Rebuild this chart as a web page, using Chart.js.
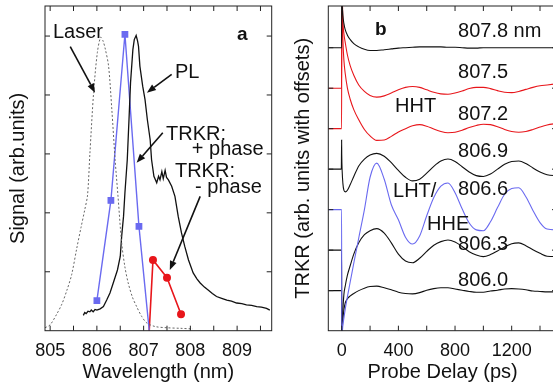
<!DOCTYPE html>
<html>
<head>
<meta charset="utf-8">
<script src="https://cdn.jsdelivr.net/npm/chart.js@4.4.0/dist/chart.umd.min.js"></script>
<style>
  html, body { margin: 0; padding: 0; background: #fff; overflow: hidden; }
  #wrap { position: relative; width: 553px; height: 390px; overflow: hidden; }
  canvas { position: absolute; top: 0; }
  #panel-a { left: 0; }
  #panel-b { left: 285px; }
</style>
</head>
<body>
<div id="wrap">
  <canvas id="panel-a" width="285" height="390"></canvas>
  <canvas id="panel-b" width="272" height="390"></canvas>
</div>
<script>
/**
 * Panel a: spectra vs wavelength (nm), signal in arb. units
 */
const laserNm = [804.89, 805.0, 805.14, 805.25, 805.36, 805.46, 805.57, 805.66, 805.74, 805.80, 805.85, 805.93, 806.01, 806.08,
                 806.13, 806.18, 806.25, 806.32, 806.39, 806.45, 806.53, 806.60, 806.67, 806.76, 806.85, 806.96, 807.07,
                 807.25, 807.5, 807.8, 808.05];
const laserSignal = [0.05, 0.1, 0.28, 0.45, 0.69, 0.95, 1.4, 1.75, 2.05, 2.3, 3.0, 4.04, 4.72, 4.98,
                     4.92, 4.78, 4.49, 3.75, 2.9, 2.3, 1.49, 1.08, 0.81, 0.57, 0.41, 0.24, 0.13,
                     0.07, 0.05, 0.04, 0.03];

const plNm = [805.71, 805.74, 805.77, 805.81, 805.85, 805.88, 805.92, 805.96, 806.00, 806.07, 806.14, 806.21, 806.28,
              806.35, 806.44, 806.50, 806.53, 806.57, 806.60, 806.65, 806.69, 806.72, 806.77, 806.80, 806.84, 806.87,
              806.89, 806.92, 806.98, 807.03, 807.08, 807.14, 807.17, 807.22, 807.28, 807.32, 807.35, 807.39, 807.42,
              807.46, 807.49, 807.53, 807.60, 807.67, 807.74, 807.81, 807.88, 807.96, 808.06, 808.14, 808.21, 808.30,
              808.38, 808.47, 808.56, 808.67, 808.78, 808.88, 808.99, 809.10, 809.20, 809.31, 809.42, 809.52, 809.63, 809.70];
const plSignal = [0.26, 0.31, 0.29, 0.33, 0.32, 0.35, 0.32, 0.36, 0.35, 0.37, 0.41, 0.52, 0.64,
                  0.81, 1.03, 1.26, 1.60, 1.94, 2.34, 2.90, 3.64, 4.21, 4.77, 4.94, 5.01, 4.92,
                  4.83, 4.49, 4.15, 3.92, 3.58, 3.24, 2.90, 2.62, 2.51, 2.62, 2.56, 2.70, 2.58,
                  2.72, 2.60, 2.56, 2.45, 2.28, 1.94, 1.66, 1.43, 1.20, 0.98, 0.88, 0.81, 0.74,
                  0.69, 0.63, 0.58, 0.55, 0.52, 0.50, 0.47, 0.46, 0.44, 0.43, 0.41, 0.40, 0.38, 0.35];

// TRKR amplitude, + phase (blue) and - phase (red); both meet the axis at the sign change
const trkrPlusNm = [806.0, 806.3, 806.6, 806.9, 807.12];
const trkrPlusSignal = [0.51, 2.21, 5.03, 1.77, 0];
const trkrMinusNm = [807.12, 807.2, 807.5, 807.8];
const trkrMinusSignal = [0, 1.2, 0.9, 0.28];

const wavelengthTicks = [805, 806, 807, 808, 809];
const wavelengthMinorTicks = [805, 805.5, 806, 806.5, 807, 807.5, 808, 808.5, 809, 809.5];
const signalTicks = [1, 2, 3, 4, 5];

/**
 * Panel b: TRKR traces vs probe delay (ps), each shifted by its offset
 */
const delayPs = [-95, -3, -1, 0, 3, 8, 15, 25, 40, 60, 85, 120, 160, 200, 247, 300, 350, 400, 450, 500,
                 550, 600, 650, 700, 750, 800, 850, 900, 950, 1000, 1050, 1100, 1150, 1200, 1250, 1300, 1350, 1400, 1450, 1520];
const trkr8078 = [0, 0, 0, 1.5, 1.1, 0.8, 0.6, 0.44, 0.31, 0.2, 0.1, 0.02, -0.04, -0.07, -0.07, -0.05, -0.03, -0.01, 0, 0.01,
                  0.02, 0.02, 0.02, 0.02, 0.01, 0.01, 0, -0.01, -0.01, 0, 0, 0, 0, 0, 0, 0, 0, 0, 0, 0];
const trkr8075 = [0, 0, 0, 2.3, 2.3, 1.65, 1.35, 1.12, 0.82, 0.55, 0.32, 0.08, -0.08, -0.18, -0.22, -0.19, -0.12, -0.04, 0.02, 0.04,
                  0.02, -0.04, -0.10, -0.14, -0.15, -0.12, -0.07, -0.01, 0.02, 0.02, -0.01, -0.06, -0.10, -0.11, -0.08, -0.03, 0.02, 0.06, 0.08, 0.11];
const trkr8072 = [0, 0, 0, 3.0, 3.0, 2.2, 1.7, 1.35, 1.0, 0.72, 0.47, 0.22, -0.02, -0.18, -0.29, -0.28, -0.19, -0.08, 0.0, 0.07,
                  0.10, 0.06, -0.01, -0.07, -0.10, -0.09, -0.04, 0.03, 0.08, 0.11, 0.10, 0.05, -0.02, -0.07, -0.09, -0.07, -0.02, 0.04, 0.09, 0.13];
const trkr8069 = [0, 0, 0.72, 0.35, -0.05, -0.35, -0.52, -0.56, -0.52, -0.38, -0.18, 0.08, 0.25, 0.35, 0.39, 0.32, 0.16, -0.03, -0.2, -0.29,
                  -0.25, -0.1, 0.07, 0.2, 0.25, 0.19, 0.06, -0.07, -0.16, -0.18, -0.12, 0.0, 0.12, 0.19, 0.2, 0.14, 0.03, -0.07, -0.14, -0.16];
const trkr8066 = [0, 0, 0, -3.1, -3.05, -2.85, -2.68, -2.45, -2.15, -1.78, -1.32, -0.7, 0.0, 0.8, 1.15, 0.75, 0.12, -0.25, -0.68, -0.85,
                  -0.65, -0.15, 0.3, 0.58, 0.66, 0.42, 0.02, -0.33, -0.5, -0.52, -0.3, 0.05, 0.38, 0.52, 0.54, 0.32, -0.02, -0.32, -0.48, -0.5];
const trkr8063 = [0, 0, 0, -2.2, -2.0, -1.5, -1.1, -0.88, -0.62, -0.38, -0.1, 0.18, 0.38, 0.48, 0.53, 0.42, 0.18, -0.1, -0.27, -0.31,
                  -0.2, -0.03, 0.12, 0.21, 0.25, 0.2, 0.09, -0.04, -0.12, -0.16, -0.11, -0.02, 0.08, 0.16, 0.18, 0.11, 0.01, -0.08, -0.15, -0.16];
const trkr8060 = [0, 0, 0, -1.2, -1.0, -0.72, -0.48, -0.3, -0.2, -0.13, -0.07, 0, 0.06, 0.1, 0.11, 0.07, 0.02, -0.04, -0.07, -0.08,
                  -0.05, 0.01, 0.05, 0.07, 0.07, 0.04, 0.01, -0.02, -0.04, -0.04, -0.01, 0.01, 0.04, 0.05, 0.04, 0.02, -0.01, -0.02, -0.03, -0.03];

const traceLabels = ['807.8 nm', '807.5', '807.2', '806.9', '806.6', '806.3', '806.0'];
const traceValues = [trkr8078, trkr8075, trkr8072, trkr8069, trkr8066, trkr8063, trkr8060];
const traceOffsets = [6, 5, 4, 3, 2, 1, 0];
const traceColors = ['#111', '#e8161b', '#e8161b', '#111', '#6a6af0', '#111', '#111'];

const delayTicks = [0, 400, 800, 1200];
const delayMinorTicks = [0, 200, 400, 600, 800, 1000, 1200, 1400];

const FONT = '"Liberation Sans", Arial, Helvetica, sans-serif';

/**
 * Plot frame with inward ticks, plus text labels and arrows in data coordinates
 */
const framePlugin = {
    id: 'frame',
    afterDatasetsDraw(chart, args, opts) {
        const { ctx, chartArea: a } = chart;
        const x = chart.scales.x, y = chart.scales.y;
        ctx.save();
        ctx.strokeStyle = '#222';
        ctx.lineWidth = 1;
        ctx.beginPath();
        opts.xTicks.forEach(v => {
            const px = x.getPixelForValue(v);
            ctx.moveTo(px, a.bottom); ctx.lineTo(px, a.bottom - 5);
            ctx.moveTo(px, a.top); ctx.lineTo(px, a.top + 5);
        });
        opts.yTicks.forEach(v => {
            const py = y.getPixelForValue(v);
            ctx.moveTo(a.left, py); ctx.lineTo(a.left + 5, py);
            ctx.moveTo(a.right, py); ctx.lineTo(a.right - 5, py);
        });
        ctx.stroke();
        ctx.strokeRect(a.left, a.top, a.width, a.height);

        // arrows
        ctx.fillStyle = '#111';
        ctx.strokeStyle = '#111';
        ctx.lineWidth = 1.6;
        (opts.arrows || []).forEach(ar => {
            const x1 = x.getPixelForValue(ar.from[0]), y1 = y.getPixelForValue(ar.from[1]);
            const x2 = x.getPixelForValue(ar.to[0]), y2 = y.getPixelForValue(ar.to[1]);
            const ang = Math.atan2(y2 - y1, x2 - x1);
            const hl = 9, hw = 3.5;
            ctx.beginPath();
            ctx.moveTo(x1, y1);
            ctx.lineTo(x2 - hl * Math.cos(ang), y2 - hl * Math.sin(ang));
            ctx.stroke();
            ctx.beginPath();
            ctx.moveTo(x2, y2);
            ctx.lineTo(x2 - hl * Math.cos(ang) + hw * Math.sin(ang), y2 - hl * Math.sin(ang) - hw * Math.cos(ang));
            ctx.lineTo(x2 - hl * Math.cos(ang) - hw * Math.sin(ang), y2 - hl * Math.sin(ang) + hw * Math.cos(ang));
            ctx.closePath();
            ctx.fill();
        });

        // labels
        ctx.textBaseline = 'alphabetic';
        ctx.textAlign = 'left';
        (opts.labels || []).forEach(lb => {
            ctx.font = (lb.bold ? 'bold ' : '') + (lb.size || 20) + 'px ' + FONT;
            ctx.fillText(lb.text, x.getPixelForValue(lb.x), y.getPixelForValue(lb.y));
        });
        ctx.restore();
    }
};

function baseOptions(xMin, xMax, yMin, yMax, xLabelTicks, xTitle, yTitle, yWidth, frameOpts, rightPad) {
    return {
        responsive: false,
        animation: false,
        devicePixelRatio: 1,
        events: [],
        layout: { padding: { left: 0, right: rightPad, top: 6, bottom: 0 } },
        plugins: {
            legend: { display: false },
            tooltip: { enabled: false },
            frame: frameOpts
        },
        scales: {
            x: {
                type: 'linear',
                min: xMin,
                max: xMax,
                grid: { display: false },
                border: { display: false },
                ticks: {
                    color: '#111',
                    font: { family: FONT, size: 18 },
                    padding: 2,
                    maxRotation: 0,
                    callback: v => String(v)
                },
                afterBuildTicks: s => { s.ticks = xLabelTicks.map(v => ({ value: v })); },
                afterFit: s => { s.height = 59.3; },
                title: { display: true, text: xTitle, color: '#111', font: { family: FONT, size: 20 }, padding: { top: 0, bottom: 6 } }
            },
            y: {
                type: 'linear',
                min: yMin,
                max: yMax,
                grid: { display: false },
                border: { display: false },
                ticks: { display: false },
                afterFit: s => { s.width = yWidth; },
                title: { display: true, text: yTitle, color: '#111', font: { family: FONT, size: 20 }, padding: { top: 6, bottom: 0 } }
            }
        }
    };
}

function pairs(xs, ys, offset) {
    return xs.map((v, i) => ({ x: v, y: ys[i] + (offset || 0) }));
}

/**
 * Panel a
 */
function initSpectraChart() {
    const ctx = document.getElementById('panel-a');
    const options = baseOptions(804.89, 809.74, 0, 5.51, wavelengthTicks, 'Wavelength (nm)', 'Signal (arb.units)', 45,
        {
            xTicks: wavelengthMinorTicks,
            yTicks: signalTicks,
            arrows: [
                { from: [805.43, 4.82], to: [805.96, 4.04] },
                { from: [807.60, 4.35], to: [807.07, 4.04] },
                { from: [807.41, 3.36], to: [806.85, 2.85] },
                { from: [808.21, 2.28], to: [807.56, 1.03] }
            ],
            labels: [
                { text: 'Laser', x: 805.06, y: 4.96 },
                { text: 'PL', x: 807.67, y: 4.28 },
                { text: 'TRKR:', x: 807.48, y: 3.24 },
                { text: '+ phase', x: 808.03, y: 2.99 },
                { text: 'TRKR:', x: 807.67, y: 2.60 },
                { text: '- phase', x: 808.10, y: 2.34 },
                { text: 'a', x: 809.0, y: 4.94, bold: true, size: 19 }
            ]
        }, 285 - 271.7);

    new Chart(ctx, {
        type: 'line',
        data: {
            datasets: [
                {
                    label: 'Laser',
                    data: pairs(laserNm, laserSignal),
                    borderColor: '#666',
                    borderWidth: 1,
                    borderDash: [2, 2],
                    pointRadius: 0,
                    tension: 0.3
                },
                {
                    label: 'PL',
                    data: pairs(plNm, plSignal),
                    borderColor: '#111',
                    borderWidth: 1.3,
                    pointRadius: 0,
                    tension: 0
                },
                {
                    label: 'TRKR + phase',
                    data: pairs(trkrPlusNm, trkrPlusSignal),
                    borderColor: '#6a6af0',
                    backgroundColor: '#6a6af0',
                    borderWidth: 1.4,
                    pointStyle: 'rect',
                    pointRadius: [3.8, 3.8, 3.8, 3.8, 0],
                    tension: 0
                },
                {
                    label: 'TRKR - phase',
                    data: pairs(trkrMinusNm, trkrMinusSignal),
                    borderColor: '#e8161b',
                    backgroundColor: '#e8161b',
                    borderWidth: 1.6,
                    pointStyle: 'circle',
                    pointRadius: [0, 3.2, 3.2, 3.2],
                    tension: 0
                }
            ]
        },
        options: options,
        plugins: [framePlugin]
    });
}

/**
 * Panel b
 */
function initDelayChart() {
    const ctx = document.getElementById('panel-b');
    const labels = traceLabels.map((t, i) => ({ text: t, x: 821, y: traceOffsets[i] + [0.26, 0.25, 0.21, 0.30, 0.36, 0.0, 0.12][i] }));
    labels.push({ text: 'b', x: 235, y: 6.31, bold: true, size: 19 });
    labels.push({ text: 'HHT', x: 376, y: 4.41 });
    labels.push({ text: 'LHT/', x: 362, y: 2.31 });
    labels.push({ text: 'HHE', x: 602, y: 1.50 });

    // plot box runs just past the right edge of the picture
    const options = baseOptions(-95, 1520, -0.99, 7.03, delayTicks, 'Probe Delay (ps)', 'TRKR (arb. units with offsets)', 43.3,
        {
            xTicks: delayMinorTicks,
            yTicks: traceOffsets,
            labels: labels
        }, 0);

    new Chart(ctx, {
        type: 'line',
        data: {
            datasets: traceValues.map((vals, i) => ({
                label: traceLabels[i],
                data: pairs(delayPs, vals, traceOffsets[i]),
                borderColor: traceColors[i],
                borderWidth: 1.1,
                pointRadius: 0,
                cubicInterpolationMode: 'monotone'
            }))
        },
        options: options,
        plugins: [framePlugin]
    });
}

document.addEventListener('DOMContentLoaded', function() {
    initSpectraChart();
    initDelayChart();
});
</script>
</body>
</html>
